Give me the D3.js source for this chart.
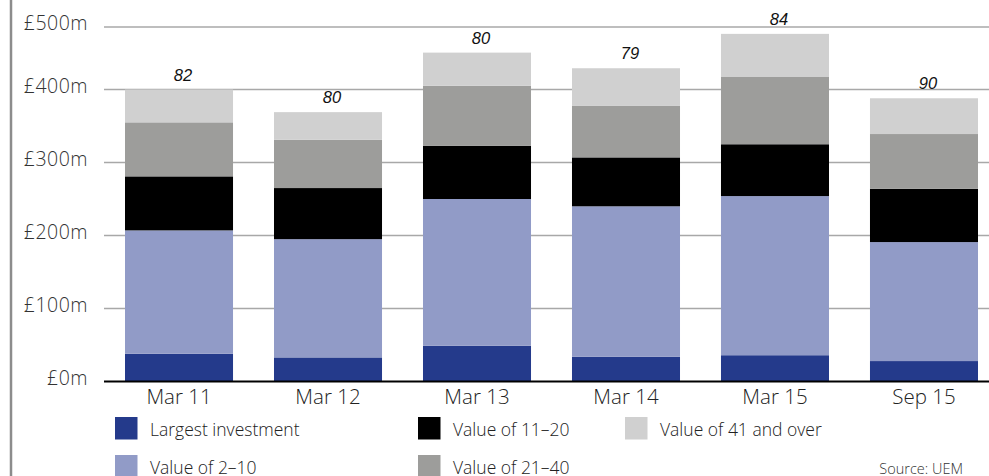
<!DOCTYPE html>
<html>
<head>
<meta charset="utf-8">
<script src="https://cdn.jsdelivr.net/npm/d3@7"></script>
<style>
  body { margin: 0; background: #fff; }
  svg { display: block; }
</style>
</head>
<body>
<svg id="chart" width="989" height="476"></svg>
<script>
// data (in £m)
let periods = ["Mar 11", "Mar 12", "Mar 13", "Mar 14", "Mar 15", "Sep 15"];
let seriesNames = ["Largest investment", "Value of 2–10", "Value of 11–20", "Value of 21–40", "Value of 41 and over"];
let largest = [38, 33, 49, 34, 36, 28];
let value2to10 = [169, 162, 201, 206, 218, 163];
let value11to20 = [74, 70, 73, 67, 71, 73];
let value21to40 = [74, 66, 83, 71, 95, 75];
let value41plus = [45, 38, 53, 56, 69, 49];
let counts = [82, 80, 80, 79, 84, 90];
let yTicks = [0, 100, 200, 300, 400, 500];
let yTickLabels = ["£0m", "£100m", "£200m", "£300m", "£400m", "£500m"];

let colors = ["#243a8b", "#919bc7", "#000000", "#9d9d9b", "#d0d0d0"];

let svg = d3.select("#chart");

let rows = periods.map(function(p, i) {
    return {
        period: p,
        s0: largest[i], s1: value2to10[i], s2: value11to20[i],
        s3: value21to40[i], s4: value41plus[i]
    };
});
let keys = ["s0", "s1", "s2", "s3", "s4"];
let stacked = d3.stack().keys(keys)(rows);

let x = d3.scaleBand()
    .domain(periods)
    .range([104.5, 998.5])
    .paddingInner(0.275)
    .paddingOuter(0.1376);

// top band of the axis is drawn a little compressed in the original
let y = d3.scaleLinear()
    .domain([0, 400, 500])
    .range([381.5, 89.5, 27]);

// left frame line
svg.append("line")
    .attr("x1", 11).attr("x2", 11)
    .attr("y1", 0).attr("y2", 476)
    .style("stroke", "#8c8c8c")
    .style("stroke-width", 2.5);

// gridlines
svg.append("g")
    .selectAll("line")
    .data(yTicks.filter(function(d) { return d > 0; }))
    .enter().append("line")
    .attr("x1", 104).attr("x2", 989)
    .attr("y1", function(d) { return y(d); })
    .attr("y2", function(d) { return y(d); })
    .style("stroke", "#a8a8a8")
    .style("stroke-width", 1.6);

// y labels
svg.append("g")
    .selectAll("text")
    .data(yTicks)
    .enter().append("text")
    .attr("x", 88)
    .attr("y", function(d) { return y(d) + 3; })
    .attr("text-anchor", "end")
    .style("font-family", "'Open Sans', sans-serif")
    .style("font-weight", 300)
    .style("font-size", "19.5px")
    .style("letter-spacing", "0.5px")
    .style("fill", "#333")
    .text(function(d, i) { return yTickLabels[i]; });

// bars
svg.append("g")
    .selectAll("g")
    .data(stacked)
    .enter().append("g")
    .style("fill", function(d, i) { return colors[i]; })
    .selectAll("rect")
    .data(function(d) { return d; })
    .enter().append("rect")
    .attr("x", function(d) { return x(d.data.period); })
    .attr("y", function(d) { return y(d[1]); })
    .attr("height", function(d) { return y(d[0]) - y(d[1]); })
    .attr("width", x.bandwidth());

// baseline
svg.append("line")
    .attr("x1", 104).attr("x2", 989)
    .attr("y1", y(0)).attr("y2", y(0))
    .style("stroke", "#000")
    .style("stroke-width", 2.2);

// count labels above bars
let topLayer = stacked[stacked.length - 1];
svg.append("g")
    .selectAll("text")
    .data(topLayer)
    .enter().append("text")
    .attr("x", function(d) { return x(d.data.period) + x.bandwidth() / 2 + 4; })
    .attr("y", function(d) { return y(d[1]) - 9; })
    .attr("text-anchor", "middle")
    .style("font-family", "'Liberation Sans', Arial, sans-serif")
    .style("font-style", "italic")
    .style("font-size", "16.5px")
    .style("fill", "#111")
    .text(function(d, i) { return counts[i]; });

// x labels
svg.append("g")
    .selectAll("text")
    .data(periods)
    .enter().append("text")
    .attr("x", function(d) { return x(d) + x.bandwidth() / 2; })
    .attr("y", 404)
    .attr("text-anchor", "middle")
    .style("font-family", "'Open Sans', sans-serif")
    .style("font-weight", 300)
    .style("font-size", "20.5px")
    .style("fill", "#222")
    .text(function(d) { return d; });

// legend
let legendPos = [
    {x: 115, y: 417}, {x: 115, y: 455},
    {x: 418, y: 417}, {x: 418, y: 455},
    {x: 625, y: 417}
];
let legend = svg.append("g")
    .selectAll("g")
    .data(seriesNames)
    .enter().append("g")
    .attr("transform", function(d, i) { return "translate(" + legendPos[i].x + "," + legendPos[i].y + ")"; });

legend.append("rect")
    .attr("width", 22.5)
    .attr("height", 22.5)
    .style("fill", function(d, i) { return colors[i]; });

legend.append("text")
    .attr("x", 35)
    .attr("y", 18.5)
    .style("font-family", "'Open Sans', sans-serif")
    .style("font-weight", 300)
    .style("font-size", "17.5px")
    .style("fill", "#222")
    .text(function(d) { return d; });

svg.append("text")
    .attr("x", 963)
    .attr("y", 474)
    .attr("text-anchor", "end")
    .style("font-family", "'Open Sans', sans-serif")
    .style("font-weight", 300)
    .style("font-size", "14.5px")
    .style("fill", "#333")
    .text("Source: UEM");
</script>
</body>
</html>
